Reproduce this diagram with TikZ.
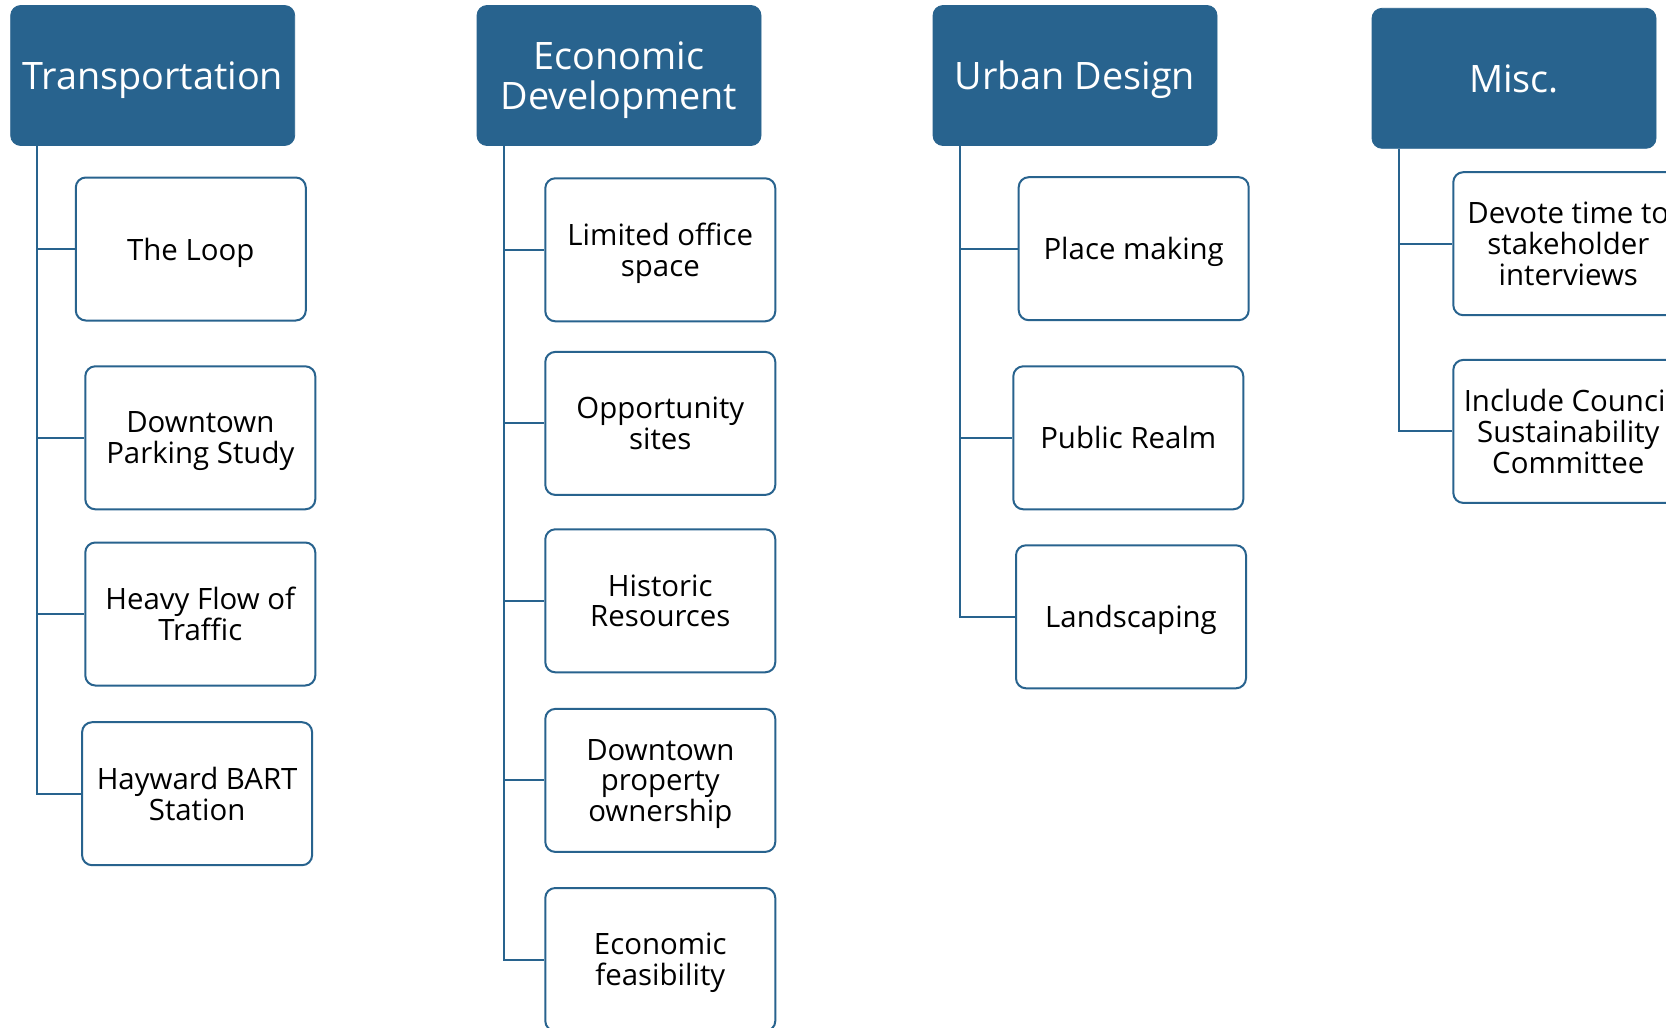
\documentclass[tikz,border=0pt]{standalone}
\usepackage{fontspec}
\setmainfont{Open Sans}
\usepackage{tikz}

\definecolor{headblue}{HTML}{28638E}
\tikzset{
  head/.style={draw=headblue,fill=headblue,rounded corners=5pt,text=white,
    minimum width=142pt,minimum height=70pt,align=center,inner sep=0pt,
    text depth=0pt,font=\fontsize{18.9}{19.7}\selectfont},
  item/.style={draw=headblue,line width=1pt,fill=white,rounded corners=5pt,
    minimum width=115pt,minimum height=71.5pt,align=center,inner sep=0pt,
    text depth=0pt,font=\fontsize{14.7}{15.3}\selectfont},
  link/.style={draw=headblue,line width=1pt}
}

\begin{document}
\begin{tikzpicture}[x=0.5pt,y=-0.5pt]
            \clip (0,0) rectangle (1666,1028);
            \fill[white] (0,0) rectangle (1666,1028);
            % headers
            \node[head] (trans) at (152.7,75.5) {Transportation};
            \node[head] (econ) at (619,75.5) {Economic\\Development};
            \node[head] (urban) at (1075,75.5) {Urban Design};
            \node[head] (misc) at (1514,78.3) {Misc.};
            % transportation
            \node[item] (t1) at (190.8,249) {The Loop};
            \node[item] (t2) at (200.3,437.8) {Downtown\\Parking Study};
            \node[item] (t3) at (200.3,614) {Heavy Flow of\\Traffic};
            \node[item] (t4) at (197.1,793.7) {Hayward BART\\Station};
            % economic development
            \node[item] (e1) at (660.3,249.8) {Limited office\\space};
            \node[item] (e2) at (660.3,423.4) {Opportunity\\sites};
            \node[item] (e3) at (660.3,600.8) {Historic\\Resources};
            \node[item] (e4) at (660.3,780.4) {Downtown\\property\\ownership};
            \node[item] (e5) at (660.3,959.5) {Economic\\feasibility};
            % urban design
            \node[item] (u1) at (1133.7,248.7) {Place making};
            \node[item] (u2) at (1128.3,437.8) {Public Realm};
            \node[item] (u3) at (1131,616.8) {Landscaping};
            % misc
            \node[item] (m1) at (1568.3,243.7) {Devote time to\\stakeholder\\interviews};
            \node[item] (m2) at (1568.3,431.4) {Include Council\\Sustainability\\Committee};
            \foreach \c in {t1,t2,t3,t4}{
                \draw[link] ([xshift=13.5pt]trans.south west) |- (\c.west);
            }
            \foreach \c in {e1,e2,e3,e4,e5}{
                \draw[link] ([xshift=13.5pt]econ.south west) |- (\c.west);
            }
            \foreach \c in {u1,u2,u3}{
                \draw[link] ([xshift=13.5pt]urban.south west) |- (\c.west);
            }
            \foreach \c in {m1,m2}{
                \draw[link] ([xshift=13.5pt]misc.south west) |- (\c.west);
            }
        \end{tikzpicture}
\end{document}
